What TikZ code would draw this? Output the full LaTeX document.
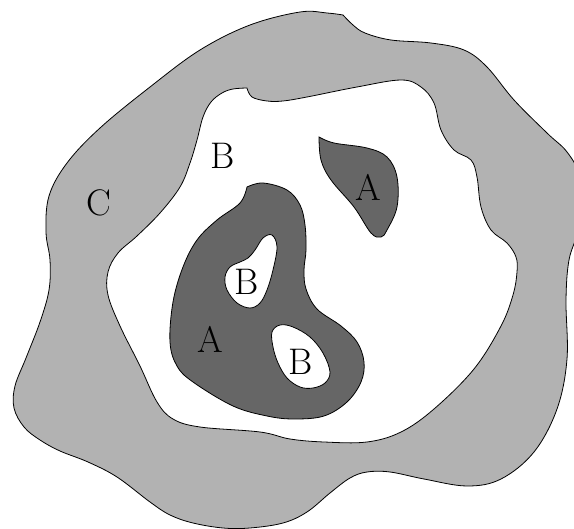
\documentclass[tikz,border=0pt]{standalone}
\usepackage{tikz}
\tikzset{
  ringc/.style={draw=black, fill=black!30, line width=0.8pt},
  fieldb/.style={draw=black, fill=white, line width=0.8pt},
  blob/.style={draw=black, fill=black!60, line width=0.8pt},
  hole/.style={draw=black, fill=white, line width=0.8pt},
  lbl/.style={inner sep=0pt, font=\fontsize{37}{40}\selectfont}
}
\begin{document}
\begin{tikzpicture}[x=1pt, y=-1pt]
\useasboundingbox (0,0) rectangle (574,529);
\clip (0,0) rectangle (574,529);

% outer ring C
\path[ringc] plot[smooth, tension=0.6] coordinates {(343,15) (353,25) (365,33)
  (391,40) (431,43) (464,50) (487,67) (514,100) (547,133) (567,152) (578,175)
  (579,225) (569,260) (566,300) (567,359) (557,409) (534,452) (501,479)
  (467,486) (424,479) (390,472) (367,472) (350,478) (330,493) (307,512)
  (283,523) (250,528) (223,528) (193,523) (170,515) (150,502) (117,477)
  (88,462) (60,451) (40,440) (24,427) (14,408) (15,386) (26,358) (40,322)
  (49,290) (50,260) (46,232) (49,196) (67,163) (100,128) (150,87) (200,50)
  (250,25) (300,12) (327,13) (343,15)} -- cycle;

% white field B
\path[fieldb] plot[smooth, tension=0.6] coordinates {(247,88) (252,97)
  (267,101) (283,101) (307,97) (357,87) (401,80) (421,87) (434,103) (441,130)
  (454,150) (471,160) (477,177) (481,207) (491,230) (507,243) (516,257)
  (517,272) (513,295) (501,326) (474,369) (434,409) (401,432) (367,442)
  (324,442) (290,439) (260,432) (200,427) (173,419) (157,402) (140,366)
  (120,326) (108,295) (108,272) (118,253) (137,236) (160,213) (180,187)
  (190,163) (197,140) (203,117) (211,102) (222,93) (233,89) (247,88)} -- cycle;

% dark blobs A
\path[blob] plot[smooth, tension=0.6] coordinates {(247,187) (263,183)
  (287,190) (300,205) (305,225) (306,250) (304,270) (306,289) (317,309)
  (341,326) (357,342) (364,362) (361,382) (347,402) (324,416) (294,419)
  (267,416) (233,406) (193,382) (177,366) (170,342) (173,302) (183,267)
  (197,240) (217,220) (240,203) (247,187)} -- cycle;
\path[blob] plot[smooth, tension=0.6] coordinates {(319,137) (334,143)
  (367,148) (387,157) (397,177) (397,207) (387,230) (381,237) (371,233)
  (354,207) (331,180) (321,160) (319,137)} -- cycle;

% holes B
\path[hole] plot[smooth cycle, tension=0.6] coordinates {(272,235) (277,247)
  (273,270) (267,290) (260,303) (250,308) (237,303) (227,290) (225,277)
  (230,267) (240,262) (248,258) (255,250) (263,238)};
\path[hole] plot[smooth cycle, tension=0.6] coordinates {(272,332) (280,325)
  (293,327) (310,337) (323,353) (330,372) (325,383) (313,388) (300,387)
  (287,378) (278,363) (273,347)};

% labels
\node[lbl] (lc) at (99,203) {C};
\node[lbl] (lb) at (223,156) {B};
\node[lbl] (la1) at (368,187) {A};
\node[lbl] (lb1) at (247,282) {B};
\node[lbl] (la2) at (210,339) {A};
\node[lbl] (lb2) at (301,362) {B};
\end{tikzpicture}
\end{document}
